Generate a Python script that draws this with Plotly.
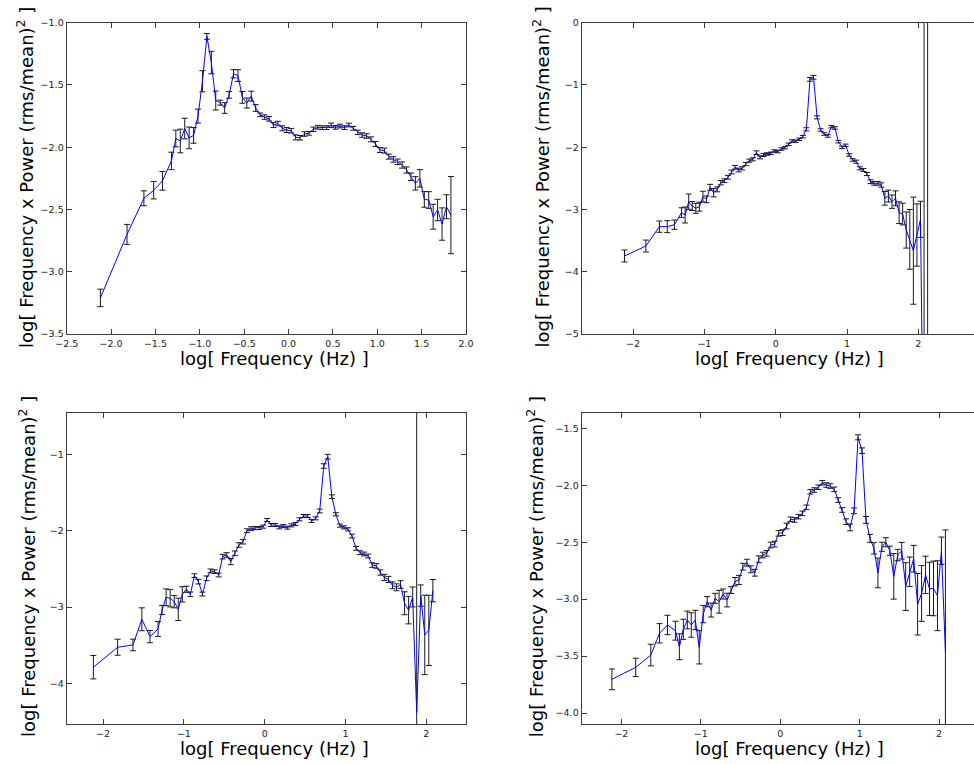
import plotly.graph_objects as go

# log10 of the bin centre frequencies (Hz), shared by all four spectra
FREQ_LOG = [
    -2.12, -1.82, -1.63, -1.52, -1.42,
    -1.32, -1.27, -1.22, -1.17, -1.12, -1.07, -1.02, -0.97, -0.92, -0.87,
    -0.82, -0.77, -0.72, -0.67, -0.62, -0.57, -0.52, -0.47, -0.42, -0.37,
    -0.32, -0.27, -0.22, -0.17, -0.12, -0.07, -0.02, 0.03, 0.08, 0.13,
    0.18, 0.23, 0.28, 0.33, 0.38, 0.43, 0.48, 0.53, 0.58, 0.63,
    0.68, 0.73, 0.78, 0.83, 0.88, 0.93, 0.98, 1.03, 1.08, 1.13,
    1.18, 1.23, 1.28, 1.33, 1.38, 1.43, 1.48, 1.53, 1.58, 1.63,
    1.68, 1.73, 1.78, 1.83, 1.88, 1.93, 1.98, 2.03, 2.08, 2.13,
]

# log(frequency x power) and 1-sigma errors for each observation
POWER_A = [
    -3.21, -2.70, -2.41, -2.345, -2.27, -2.11, -1.93, -1.95, -1.85, -1.925,
    -1.905, -1.75, -1.47, -1.11, -1.32, -1.625, -1.642, -1.685, -1.58, -1.41,
    -1.425, -1.60, -1.645, -1.59, -1.685, -1.74, -1.758, -1.772, -1.822, -1.81,
    -1.848, -1.862, -1.868, -1.921, -1.924, -1.894, -1.888, -1.856, -1.84, -1.843,
    -1.843, -1.824, -1.84, -1.83, -1.843, -1.822, -1.848, -1.881, -1.902, -1.91,
    -1.937, -1.974, -2.022, -2.027, -2.076, -2.098, -2.117, -2.143, -2.183, -2.237,
    -2.29, -2.25, -2.419, -2.424, -2.558, -2.504, -2.617, -2.478, -2.545,
]
ERR_A = [
    0.07, 0.08, 0.06, 0.07, 0.075, 0.07, 0.067, 0.095, 0.083, 0.087,
    0.063, 0.056, 0.085, 0.023, 0.09, 0.076, 0.02, 0.043, 0.027, 0.033,
    0.047, 0.047, 0.04, 0.04, 0.027, 0.015, 0.018, 0.018, 0.02, 0.018,
    0.02, 0.02, 0.018, 0.02, 0.018, 0.018, 0.015, 0.018, 0.015, 0.015,
    0.015, 0.018, 0.015, 0.015, 0.015, 0.015, 0.015, 0.018, 0.018, 0.018,
    0.02, 0.02, 0.02, 0.02, 0.02, 0.022, 0.022, 0.025, 0.025, 0.03,
    0.054, 0.07, 0.063, 0.067, 0.1, 0.086, 0.13, 0.096, 0.31,
]

POWER_B = [
    -3.747, -3.587, -3.276, -3.276, -3.244, -3.05, -3.089, -2.875, -2.944, -2.981,
    -2.955, -2.794, -2.837, -2.644, -2.73, -2.676, -2.57, -2.538, -2.483, -2.398,
    -2.323, -2.366, -2.339, -2.27, -2.216, -2.194, -2.088, -2.162, -2.125, -2.109,
    -2.098, -2.061, -2.07, -2.029, -2.007, -1.953, -1.90, -1.905, -1.873, -1.831,
    -1.712, -0.91, -0.877, -1.52, -1.723, -1.788, -1.82, -1.67, -1.691, -1.911,
    -2.002, -1.97, -2.125, -2.205, -2.232, -2.339, -2.366, -2.43, -2.554, -2.58,
    -2.58, -2.607, -2.821, -2.784, -2.875, -2.821, -3.052, -3.073, -3.33, -3.48,
    -3.662, -3.41, -3.158, -8.0, -9.5,
]
ERR_B = [
    0.096, 0.096, 0.091, 0.096, 0.075, 0.078, 0.128, 0.123, 0.072, 0.08,
    0.072, 0.086, 0.054, 0.048, 0.067, 0.04, 0.035, 0.03, 0.03, 0.03,
    0.03, 0.03, 0.025, 0.025, 0.025, 0.025, 0.03, 0.025, 0.025, 0.02,
    0.02, 0.02, 0.02, 0.02, 0.02, 0.02, 0.02, 0.02, 0.02, 0.02,
    0.025, 0.03, 0.03, 0.025, 0.02, 0.02, 0.02, 0.02, 0.02, 0.02,
    0.02, 0.02, 0.02, 0.02, 0.025, 0.025, 0.025, 0.025, 0.03, 0.03,
    0.03, 0.035, 0.11, 0.096, 0.107, 0.12, 0.174, 0.174, 0.29, 0.48,
    0.86, 0.5, 0.29, 10.0, 12.0,
]

POWER_C = [
    -3.788, -3.526, -3.496, -3.16, -3.387, -3.287, -3.038, -2.872, -2.885, -2.93,
    -3.029, -2.833, -2.767, -2.833, -2.589, -2.667, -2.829, -2.623, -2.527, -2.536,
    -2.58, -2.34, -2.318, -2.405, -2.296, -2.187, -2.144, -2.0, -1.974, -1.965,
    -1.965, -1.947, -1.86, -1.925, -1.925, -1.956, -1.94, -1.96, -1.93, -1.912,
    -1.851, -1.808, -1.808, -1.873, -1.838, -1.742, -1.153, -1.031, -1.555, -1.785,
    -1.934, -1.956, -1.982, -2.07, -2.231, -2.288, -2.305, -2.331, -2.45, -2.462,
    -2.547, -2.612, -2.638, -2.715, -2.741, -2.705, -2.95, -3.04, -2.868, -4.38,
    -2.85, -3.365, -3.305, -2.785,
]
ERR_C = [
    0.153, 0.105, 0.076, 0.15, 0.08, 0.098, 0.06, 0.11, 0.113, 0.08,
    0.146, 0.1, 0.04, 0.03, 0.025, 0.03, 0.025, 0.03, 0.025, 0.025,
    0.025, 0.03, 0.03, 0.04, 0.03, 0.03, 0.03, 0.025, 0.025, 0.02,
    0.02, 0.02, 0.02, 0.02, 0.02, 0.02, 0.02, 0.02, 0.02, 0.02,
    0.02, 0.02, 0.02, 0.02, 0.02, 0.025, 0.03, 0.03, 0.025, 0.02,
    0.02, 0.02, 0.02, 0.025, 0.025, 0.025, 0.025, 0.025, 0.03, 0.03,
    0.035, 0.04, 0.04, 0.045, 0.045, 0.05, 0.15, 0.18, 0.13, 4.5,
    0.14, 0.52, 0.46, 0.146,
]

POWER_D = [
    -3.704, -3.599, -3.491, -3.3, -3.227, -3.277, -3.418, -3.265, -3.183, -3.227,
    -3.183, -3.423, -3.131, -3.023, -3.096, -2.993, -3.023, -2.955, -3.008, -2.92,
    -2.847, -2.832, -2.715, -2.68, -2.738, -2.768, -2.65, -2.613, -2.598, -2.525,
    -2.517, -2.422, -2.416, -2.358, -2.299, -2.305, -2.276, -2.247, -2.194, -2.057,
    -2.042, -2.018, -1.978, -1.998, -2.007, -2.036, -2.13, -2.217, -2.32, -2.37,
    -2.224, -1.579, -1.697, -2.305, -2.466, -2.554, -2.77, -2.54, -2.5, -2.575,
    -2.8, -2.613, -2.575, -2.89, -2.76, -2.645, -3.045, -2.95, -2.787, -2.91,
    -2.906, -2.97, -2.575, -3.462,
]
ERR_D = [
    0.091, 0.08, 0.095, 0.085, 0.085, 0.083, 0.114, 0.088, 0.078, 0.107,
    0.085, 0.146, 0.076, 0.045, 0.061, 0.044, 0.1, 0.044, 0.06, 0.03,
    0.037, 0.04, 0.03, 0.03, 0.03, 0.03, 0.03, 0.025, 0.025, 0.025,
    0.025, 0.025, 0.025, 0.025, 0.02, 0.02, 0.02, 0.02, 0.02, 0.02,
    0.02, 0.02, 0.02, 0.02, 0.02, 0.02, 0.02, 0.02, 0.025, 0.03,
    0.025, 0.022, 0.025, 0.03, 0.035, 0.05, 0.13, 0.04, 0.04, 0.04,
    0.2, 0.05, 0.073, 0.21, 0.13, 0.117, 0.27, 0.245, 0.164, 0.234,
    0.24, 0.307, 0.12, 1.07,
]

X_TITLE = "log[ Frequency (Hz) ]"
Y_TITLE = "log[ Frequency x Power (rms/mean)<sup>2</sup> ]"

W, H = 974, 764
FONT = "DejaVu Sans"
TITLE_FONT = dict(family=FONT, size=18, color="black")

# panel frames in pixels: (left, right, top, bottom); xt / yt are the
# pixel centres of the x and y axis titles
panels = [
    dict(y=POWER_A, e=ERR_A, box=(66.7, 466.0, 22.7, 334.0),
         xr=[-2.5, 2.0], yr=[-3.5, -1.0], xd=0.5, yd=0.5,
         xfmt=".1f", yfmt=".1f", right=True,
         xt=(274, 358), yt=(25.5, 177.5)),
    dict(y=POWER_B, e=ERR_B, box=(581.7, 974.0, 22.7, 334.0),
         xr=[-2.72, 2.78], yr=[-5.0, 0.0], xd=1, yd=1,
         xfmt="d", yfmt="d", right=False,
         xt=(789.5, 358), yt=(542, 177.5)),
    dict(y=POWER_C, e=ERR_C, box=(66.7, 466.0, 412.7, 724.3),
         xr=[-2.45, 2.49], yr=[-4.535, -0.455], xd=1, yd=1,
         xfmt="d", yfmt="d", right=True,
         xt=(274, 748), yt=(27, 567)),
    dict(y=POWER_D, e=ERR_D, box=(581.7, 974.0, 412.7, 724.3),
         xr=[-2.5, 2.44], yr=[-4.099, -1.363], xd=1, yd=0.5,
         xfmt="d", yfmt=".1f", right=False,
         xt=(789.5, 748), yt=(535.3, 567)),
]

fig = go.Figure()
layout = dict(
    width=W, height=H, autosize=False,
    margin=dict(l=0, r=0, t=0, b=0),
    paper_bgcolor="white", plot_bgcolor="white",
    showlegend=False, annotations=[],
)

axis_common = dict(
    showline=True, linecolor="#3a3a3a", linewidth=1.2,
    ticks="inside", ticklen=5, tickwidth=1, tickcolor="#3a3a3a",
    showgrid=False, zeroline=False,
    tickfont=dict(family=FONT, size=9.5, color="#222222"),
    automargin=False,
)

for i, p in enumerate(panels, start=1):
    sfx = "" if i == 1 else str(i)
    left, right, top, bottom = p["box"]
    n = len(p["y"])
    fig.add_trace(go.Scatter(
        x=FREQ_LOG[:n], y=p["y"],
        mode="lines",
        line=dict(color="#0000ff", width=1),
        error_y=dict(type="data", array=p["e"], visible=True,
                     color="#1a1a1a", thickness=1, width=3),
        xaxis="x" + sfx, yaxis="y" + sfx,
        hoverinfo="x+y",
    ))
    layout["xaxis" + sfx] = dict(
        axis_common,
        domain=[left / W, min(right / W, 1.0)],
        anchor="y" + sfx, range=p["xr"],
        tickmode="linear", tick0=0, dtick=p["xd"],
        tickformat=p["xfmt"],
        mirror="ticks",
    )
    layout["yaxis" + sfx] = dict(
        axis_common,
        domain=[1 - bottom / H, 1 - top / H],
        anchor="x" + sfx, range=p["yr"],
        tickmode="linear", tick0=0, dtick=p["yd"],
        tickformat=p["yfmt"],
        mirror="ticks" if p["right"] else False,
    )
    # the right-hand frames run past the page edge, so the titles are
    # placed as paper annotations rather than centred on the cropped axes
    layout["annotations"].append(dict(
        text=X_TITLE, xref="paper", yref="paper",
        x=p["xt"][0] / W, y=1 - p["xt"][1] / H,
        xanchor="center", yanchor="middle", showarrow=False,
        font=TITLE_FONT,
    ))
    layout["annotations"].append(dict(
        text=Y_TITLE, xref="paper", yref="paper",
        x=p["yt"][0] / W, y=1 - p["yt"][1] / H,
        xanchor="center", yanchor="middle", showarrow=False, textangle=-90,
        font=TITLE_FONT,
    ))

fig.update_layout(**layout)
fig.write_html("out.html")
